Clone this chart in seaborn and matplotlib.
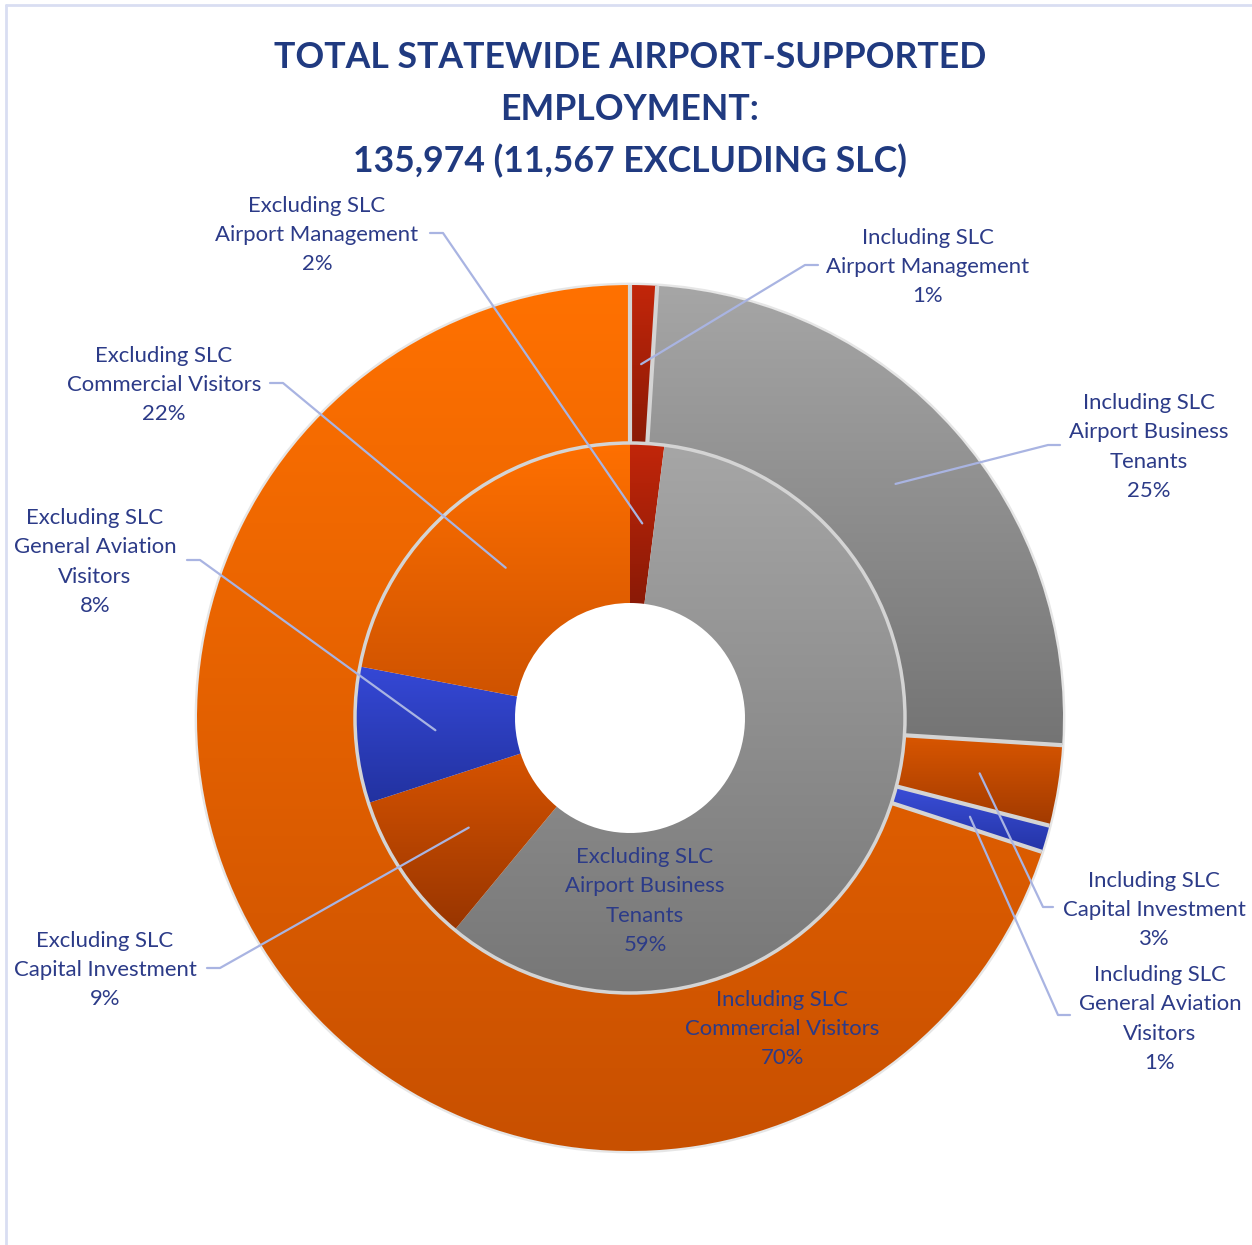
import numpy as np
import matplotlib
matplotlib.use("Agg")
import matplotlib.pyplot as plt
from matplotlib.colors import LinearSegmentedColormap
from matplotlib.lines import Line2D
from matplotlib.patches import Circle
import seaborn as sns

# ---- data -------------------------------------------------------------
categories = ["Airport Management", "Airport Business\nTenants", "Capital Investment",
              "General Aviation\nVisitors", "Commercial Visitors"]
including_slc = [1, 25, 3, 1, 70]     # outer ring, %
excluding_slc = [2, 59, 9, 8, 22]     # inner ring, %
title_lines = ["TOTAL STATEWIDE AIRPORT-SUPPORTED", "EMPLOYMENT:",
               "135,974 (11,567 EXCLUDING SLC)"]

# ---- style ------------------------------------------------------------
outer_grad = [("#c2260a", "#8a1a06"), ("#a6a6a6", "#747474"), ("#d95600", "#a13a00"),
              ("#3a4ed8", "#2434a6"), ("#ff7100", "#c85000")]
inner_grad = [("#c2260a", "#8a1a06"), ("#a6a6a6", "#777777"), ("#d65300", "#983500"),
              ("#3548d6", "#2232a0"), ("#ff7000", "#cf5300")]
TITLE_C = "#203a80"
LABEL_C = "#2c3b88"
LEADER_C = "#a9b4e2"
EDGE_C = "#d4d4d4"

W, H = 1252, 1245
CX, CY = 630, 718
R_OUT, R_MID, R_HOLE = 433, 275, 115


def px(x, y):
    return x - CX, CY - y


# label layout in picture pixels: text centre, elbow, end of the short tick
outer_layout = [
    dict(text=(928, 265), elbow=(805, 265), end=(818, 265)),
    dict(text=(1149, 445), elbow=(1048, 445), end=(1060, 445)),
    dict(text=(1154, 908), elbow=(1043, 907), end=(1053, 907)),
    dict(text=(1160, 1017), elbow=(1058, 1015), end=(1070, 1015)),
    dict(text=(782, 1027), elbow=None, end=None),
]
inner_layout = [
    dict(text=(317, 233), elbow=(443, 233), end=(430, 233)),
    dict(text=(645, 899), elbow=None, end=None),
    dict(text=(105, 968), elbow=(220, 968), end=(207, 968)),
    dict(text=(95, 560), elbow=(200, 560), end=(187, 560)),
    dict(text=(164, 383), elbow=(283, 383), end=(270, 383)),
]

sns.set_style("white")
plt.rcParams["font.family"] = ["Lato", "DejaVu Sans"]

fig = plt.figure(figsize=(W / 100, H / 100), dpi=100)
ax = fig.add_axes([0, 0, 1, 1])


def fill_gradient(wedge, top, bottom):
    bb = wedge.get_path().get_extents()
    cmap = LinearSegmentedColormap.from_list("g", [bottom, top])
    im = ax.imshow(np.linspace(0, 1, 256).reshape(-1, 1), cmap=cmap, origin="lower",
                   extent=[bb.x0, bb.x1, bb.y0, bb.y1], aspect="auto",
                   interpolation="bilinear", zorder=0.9)
    im.set_clip_path(wedge)
    wedge.set_facecolor("none")


# faint shadow round the outer ring
ax.add_patch(Circle((0, 0), R_OUT + 1, fill=False, ec="#e6e6e6", lw=2, zorder=0.5))

outer_w, _ = ax.pie(including_slc, radius=R_OUT, startangle=90, counterclock=False,
                    colors=[c[1] for c in outer_grad],
                    wedgeprops=dict(width=R_OUT - R_MID, edgecolor="none", linewidth=0))
inner_w, _ = ax.pie(excluding_slc, radius=R_MID, startangle=90, counterclock=False,
                    colors=[c[1] for c in inner_grad],
                    wedgeprops=dict(width=R_MID - R_HOLE, edgecolor="none", linewidth=0))
for w, (t, b) in zip(outer_w, outer_grad):
    fill_gradient(w, t, b)
for w, (t, b) in zip(inner_w, inner_grad):
    fill_gradient(w, t, b)

# light separators between the outer slices, and round the inner ring
for w in outer_w:
    a = np.deg2rad(w.theta1)
    ax.plot([R_MID * np.cos(a), R_OUT * np.cos(a)], [R_MID * np.sin(a), R_OUT * np.sin(a)],
            color=EDGE_C, lw=3, zorder=2, solid_capstyle="butt")
ax.add_patch(Circle((0, 0), R_MID, fill=False, ec=EDGE_C, lw=2.5, zorder=2))

# font sizes fitted to the widths in the original picture
renderer = fig.canvas.get_renderer()


def fit_size(s, target, weight="normal"):
    t = fig.text(0, 0, s, fontsize=10, fontweight=weight)
    wpx = t.get_window_extent(renderer).width
    t.remove()
    return 10 * target / wpx


label_fs = fit_size("Airport Management", 204)
title_fs = fit_size(title_lines[0], 712, "bold")


def put_label(wedge, prefix, name, value, lay):
    lines = [prefix] + name.split("\n") + [f"{value}%"]
    tx, ty = lay["text"]
    n = len(lines)
    for k, line in enumerate(lines):
        y = ty + (k - (n - 1) / 2) * 29.3 + 8
        ax.text(*px(tx, y), line, ha="center", va="baseline",
                fontsize=label_fs, color=LABEL_C, zorder=4)
    if lay["elbow"] is not None:
        mid = np.deg2rad((wedge.theta1 + wedge.theta2) / 2)
        r = wedge.r - wedge.width / 2
        ex, ey = px(*lay["elbow"])
        fx, fy = px(*lay["end"])
        ax.plot([r * np.cos(mid), ex, fx], [r * np.sin(mid), ey, fy],
                color=LEADER_C, lw=1.6, zorder=3, solid_capstyle="round")


for w, name, v, lay in zip(outer_w, categories, including_slc, outer_layout):
    put_label(w, "Including SLC", name, v, lay)
for w, name, v, lay in zip(inner_w, categories, excluding_slc, inner_layout):
    put_label(w, "Excluding SLC", name, v, lay)

for line, base in zip(title_lines, [68, 120, 172]):
    ax.text(*px(630, base), line, ha="center", va="baseline", fontsize=title_fs,
            fontweight="bold", color=TITLE_C)

# thin chart-area border (left and top edges)
fig.add_artist(Line2D([6 / W, 6 / W], [0, 1 - 5 / H], transform=fig.transFigure,
                      color="#d9def2", lw=2))
fig.add_artist(Line2D([6 / W, 1], [1 - 5 / H, 1 - 5 / H], transform=fig.transFigure,
                      color="#d9def2", lw=2))

ax.set_aspect("equal")
ax.set_xlim(-CX, W - CX)
ax.set_ylim(CY - H, CY)
ax.axis("off")

fig.savefig("out.png", dpi=100, facecolor="white")
